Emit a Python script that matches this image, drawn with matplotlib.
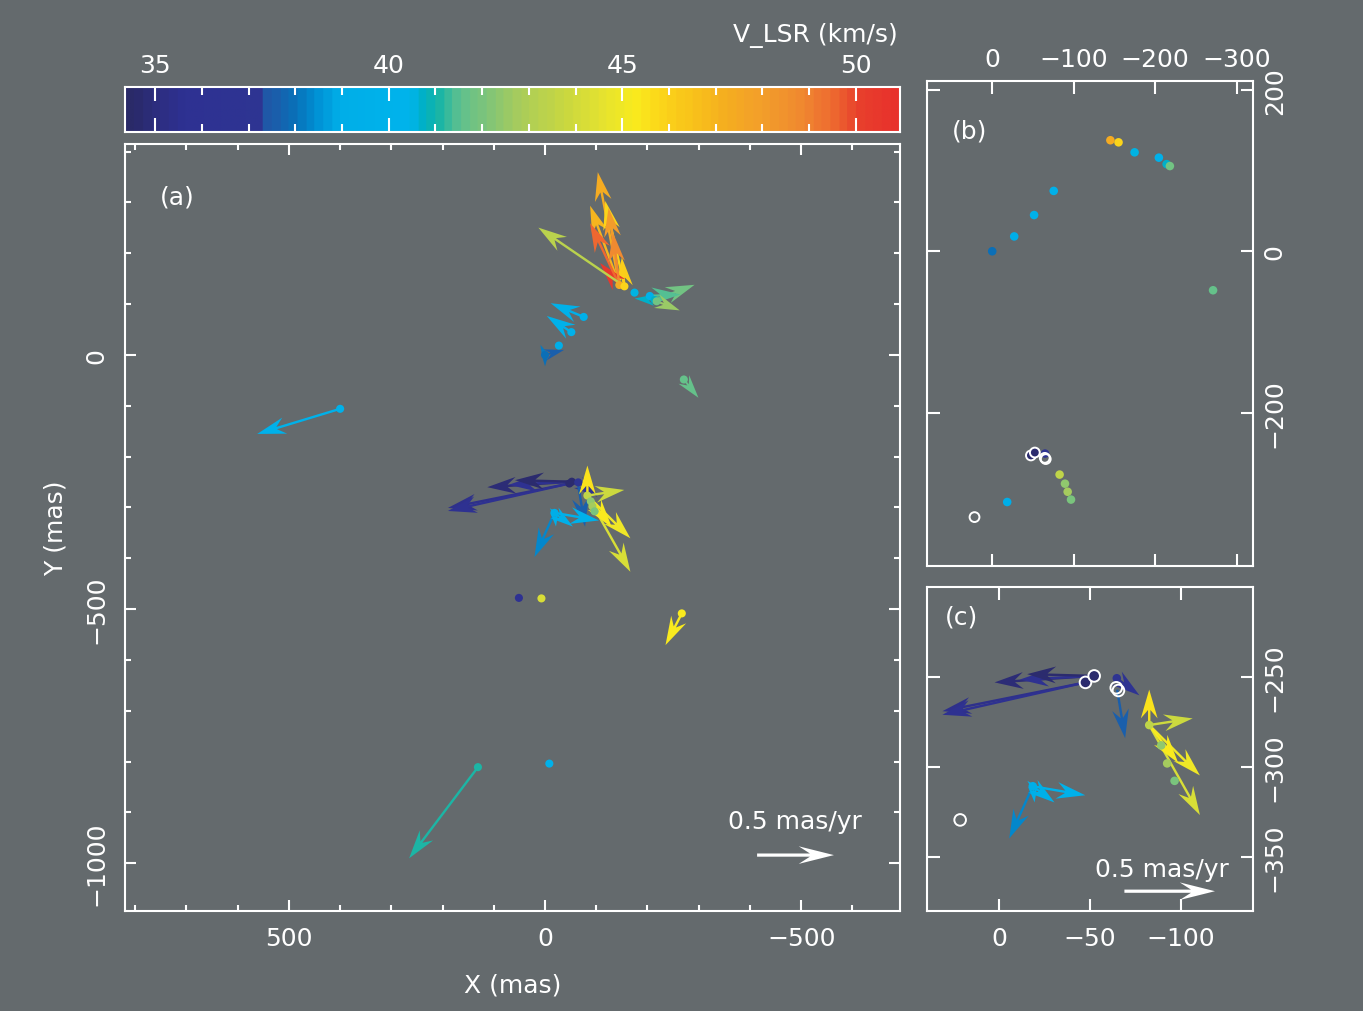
import matplotlib
matplotlib.use("Agg")
import matplotlib.pyplot as plt
import numpy as np
from matplotlib.colors import LinearSegmentedColormap, ListedColormap, Normalize
from matplotlib.ticker import MultipleLocator

# --- maser spots: position (mas) and V_LSR (km/s) ---
spot_x = [-145.0, -155.0, -174.7, -204.5, -214.0, -218.0, -75.5, -51.4, -27.0, 0.0,
          -271.0, -47.5, -52.3, -64.8, -82.7, -89.3, -92.6, -96.7, -18.4,
          400.0, 131.0, -8.4, 51.0, 7.0, -267.0]
spot_y = [137.6, 135.0, 122.6, 116.0, 108.0, 105.6, 74.8, 44.9, 18.4, 0.0,
          -48.3, -253.0, -249.4, -250.7, -276.7, -288.0, -298.0, -307.7, -310.7,
          -106.0, -811.0, -804.0, -478.0, -479.0, -508.5]
spot_v = [47.3, 45.8, 40.6, 39.8, 40.8, 41.8, 39.4, 39.8, 39.0, 37.9,
          41.6, 34.6, 34.6, 36.8, 43.5, 42.3, 42.8, 42.0, 39.1,
          39.6, 41.1, 39.7, 35.8, 44.2, 45.4]

# --- proper motions: origin (mas), V_LSR, mu_x, mu_y (mas/yr) ---
pm_x = [-145.0, -145.0, -155.0, -145.0, -155.0, -145.0, -145.0, -145.0, -155.0,
        -214.0, -214.0, -204.5, -218.0,
        -75.5, -51.4, 0.0, 0.0, 0.0,
        400.0, 131.0, -267.0, -271.0,
        -47.5, -47.5, -52.3, -52.3, -52.3, -64.8, -65.0,
        -82.7, -82.7, -82.7, -82.7, -82.7,
        -18.4, -18.4, -18.4, -18.4, -18.4]
pm_y = [137.6, 137.6, 135.0, 137.6, 135.0, 137.6, 137.6, 137.6, 135.0,
        108.0, 108.0, 116.0, 105.6,
        74.8, 44.9, 0.0, 0.0, 0.0,
        -106.0, -811.0, -508.5, -48.3,
        -253.0, -253.0, -249.4, -249.4, -249.4, -250.7, -257.0,
        -276.7, -276.7, -276.7, -276.7, -276.7,
        -310.7, -310.7, -310.7, -310.7, -310.7]
pm_v = [47.3, 47.0, 45.8, 48.0, 46.0, 50.5, 49.5, 48.8, 43.3,
        40.8, 41.8, 41.5, 42.6,
        39.4, 39.8, 37.9, 38.2, 37.5,
        39.6, 41.1, 45.4, 41.6,
        35.3, 35.6, 34.8, 35.5, 34.6, 36.5, 37.6,
        45.5, 43.8, 45.0, 44.2, 45.3,
        38.4, 39.6, 39.4, 39.5, 39.3]
pm_mux = [0.14, 0.19, 0.125, 0.07, 0.017, 0.125, 0.19, 0.04, 0.56,
          0.13, -0.26, -0.20, -0.15,
          0.215, 0.16, 0.0, 0.03, -0.124,
          0.54, 0.448, 0.106, -0.095,
          0.79, 0.79, 0.55, 0.41, 0.37, -0.125, -0.044,
          0.0, -0.24, -0.28, -0.28, -0.16,
          0.13, -0.29, -0.12, 0.03, -0.01]
pm_muy = [0.74, 0.52, 0.56, 0.505, 0.19, 0.144, 0.405, 0.34, 0.385,
          0.01, 0.10, 0.01, -0.06,
          0.09, 0.106, -0.075, 0.066, 0.033,
          -0.165, -0.598, -0.208, -0.12,
          -0.16, -0.18, -0.036, -0.02, 0.01, -0.095, -0.27,
          0.197, 0.037, -0.28, -0.50, -0.21,
          -0.29, -0.05, -0.09, 0.03, -0.09]

# white circles in the zoomed panels (fill V_LSR, nan = open)
ring_x = [-47.5, -52.3, -64.5, -65.7, 21.7]
ring_y = [-253.0, -249.4, -256.0, -257.5, -329.4]
ring_v = [34.6, 34.6, np.nan, np.nan, np.nan]

# colour table (V_LSR -> colour)
cb_vals = [34.35, 34.9, 35.5, 37.2, 37.35, 37.9, 38.4, 38.9, 40.4, 40.7, 41.0, 41.5,
           42.0, 42.8, 43.8, 44.6, 45.3, 45.8, 46.5, 47.3, 48.0, 49.0, 49.6, 50.2, 50.95]
cb_cols = ["#2a2a68", "#2d2e80", "#2e3192", "#2e3592", "#1f5aa8", "#0a70b8", "#0090d4",
           "#00aee8", "#00b4ec", "#00b0c4", "#14b4a8", "#5cc090", "#7cc47c", "#a8cc5c",
           "#cad840", "#e4e230", "#f9ec1e", "#fcd81a", "#f9c41a", "#f5ae20", "#f3a02a",
           "#f08830", "#ee6a30", "#e8402c", "#e8322c"]

vmin, vmax = cb_vals[0], cb_vals[-1]
pos = [(v - vmin) / (vmax - vmin) for v in cb_vals]
base = LinearSegmentedColormap.from_list("vlsr", list(zip(pos, cb_cols)))
cmap = ListedColormap(base(np.linspace(0, 1, 90)))
norm = Normalize(vmin, vmax)

bg = "#646a6d"
fs = 18
W, H = 1363, 1012

fig = plt.figure(figsize=(W / 100, H / 100), dpi=100, facecolor=bg)
ax_a = fig.add_axes([125 / W, 1 - 912 / H, 775 / W, 767 / H])
cax = fig.add_axes([125 / W, 1 - 133 / H, 775 / W, 45 / H])
ax_b = fig.add_axes([927 / W, 1 - 567 / H, 326 / W, 485 / H])
ax_c = fig.add_axes([927 / W, 1 - 912 / H, 326 / W, 324 / H])


def style(ax, major, minor):
    ax.set_facecolor(bg)
    for s in ax.spines.values():
        s.set_color("white")
        s.set_linewidth(1.5)
    ax.tick_params(which="both", direction="in", colors="white", top=True, right=True,
                   labelsize=fs, width=1.5)
    ax.tick_params(which="major", length=major)
    ax.tick_params(which="minor", length=minor)


def arrows(ax, scale, width):
    u = np.array(pm_mux) * scale
    v = np.array(pm_muy) * scale
    ax.quiver(pm_x, pm_y, u, v, pm_v, cmap=cmap, norm=norm, angles="xy",
              scale_units="xy", scale=1, units="dots", width=width,
              headwidth=7, headlength=12, headaxislength=8.5, zorder=2)


def rings(ax, size):
    fc = [cmap(norm(v)) if np.isfinite(v) else "none" for v in ring_v]
    ax.scatter(ring_x, ring_y, s=size, facecolors=fc, edgecolors="white",
               linewidths=1.4, zorder=4)


def scale_bar(ax, x0, y0, length):
    ax.quiver([x0], [y0], [-length], [0], color="white", angles="xy",
              scale_units="xy", scale=1, units="dots", width=3.2,
              headwidth=5.5, headlength=11, headaxislength=7.5, zorder=5)


# ---------------- panel (a) ----------------
style(ax_a, 8, 4)
arrows(ax_a, 300, 2.4)
ax_a.scatter(spot_x, spot_y, c=spot_v, cmap=cmap, norm=norm, s=34,
             edgecolors="none", zorder=3)
scale_bar(ax_a, -414, -984, 150)
ax_a.text(-488, -917, "0.5 mas/yr", color="white", fontsize=fs, ha="center", va="center")
ax_a.set_xlim(820, -693)
ax_a.set_ylim(-1094, 415)
ax_a.set_xticks([500, 0, -500])
ax_a.set_yticks([0, -500, -1000])
ax_a.xaxis.set_minor_locator(MultipleLocator(100))
ax_a.yaxis.set_minor_locator(MultipleLocator(100))
ax_a.tick_params(axis="x", pad=11)
ax_a.tick_params(axis="y", pad=12)
plt.setp(ax_a.get_yticklabels(), rotation=90, va="center")
ax_a.set_xlabel("X (mas)", color="white", fontsize=fs, labelpad=16)
ax_a.set_ylabel("Y (mas)", color="white", fontsize=fs, labelpad=12)
ax_a.text(0.068, 0.931, "(a)", transform=ax_a.transAxes, color="white",
          fontsize=fs, ha="center", va="center")

# ---------------- colour bar ----------------
grad = np.linspace(vmin, vmax, 512)[None, :]
cax.imshow(grad, aspect="auto", cmap=cmap, norm=norm, extent=[vmin, vmax, 0, 1])
for s in cax.spines.values():
    s.set_color("white")
    s.set_linewidth(1.5)
cax.set_xlim(vmin, vmax)
cax.set_yticks([])
cax.set_xticks([35, 40, 45, 50])
cax.xaxis.set_minor_locator(MultipleLocator(1))
cax.tick_params(which="both", direction="in", colors="white", top=True, bottom=True,
                labeltop=True, labelbottom=False, labelsize=fs, width=1.5, pad=7)
cax.tick_params(which="major", length=10)
cax.tick_params(which="minor", length=6)
fig.text(898 / W, 1 - 35 / H, "V_LSR (km/s)", color="white", fontsize=fs,
         ha="right", va="center")

# ---------------- panel (b) ----------------
style(ax_b, 9, 0)
ax_b.scatter(spot_x, spot_y, c=spot_v, cmap=cmap, norm=norm, s=38,
             edgecolors="none", zorder=3)
rings(ax_b, 50)
ax_b.set_xlim(80, -320)
ax_b.set_ylim(-390, 211)
ax_b.set_xticks([0, -100, -200, -300])
ax_b.set_yticks([200, 0, -200])
ax_b.tick_params(labelbottom=False, labeltop=True, labelleft=False, labelright=True,
                 pad=7)
plt.setp(ax_b.get_yticklabels(), rotation=90, va="center")
ax_b.text(0.132, 0.897, "(b)", transform=ax_b.transAxes, color="white",
          fontsize=fs, ha="center", va="center")

# ---------------- panel (c) ----------------
style(ax_c, 9, 0)
arrows(ax_c, 100, 2.4)
ax_c.scatter(spot_x, spot_y, c=spot_v, cmap=cmap, norm=norm, s=38,
             edgecolors="none", zorder=3)
rings(ax_c, 70)
scale_bar(ax_c, -69, -369, 50)
ax_c.text(-89.5, -356.5, "0.5 mas/yr", color="white", fontsize=fs, ha="center", va="center")
ax_c.set_xlim(40, -140)
ax_c.set_ylim(-380, -200)
ax_c.set_xticks([0, -50, -100])
ax_c.set_yticks([-250, -300, -350])
ax_c.tick_params(labelleft=False, labelright=True, pad=7)
ax_c.tick_params(axis="x", pad=11)
plt.setp(ax_c.get_yticklabels(), rotation=90, va="center")
ax_c.text(0.107, 0.91, "(c)", transform=ax_c.transAxes, color="white",
          fontsize=fs, ha="center", va="center")

fig.savefig("out.png", dpi=100, facecolor=bg)
